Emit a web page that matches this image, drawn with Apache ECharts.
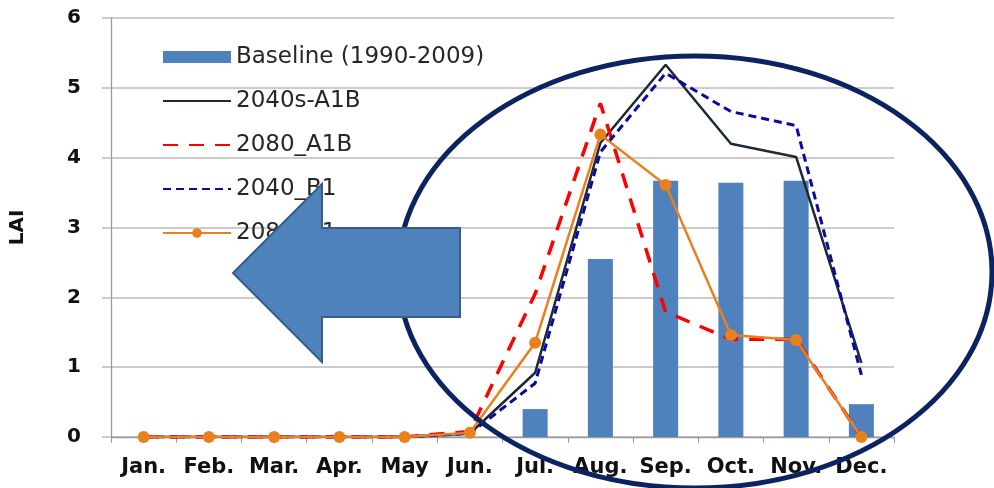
<!DOCTYPE html>
<html>
<head>
<meta charset="utf-8">
<script src="https://cdn.jsdelivr.net/npm/echarts@6/dist/echarts.min.js"></script>
<style>
html,body{margin:0;padding:0;background:#fff;}
#chart{width:994px;height:488px;}
</style>
</head>
<body>
<div id="chart"></div>
<script>
// ---- data ----
var months = ['Jan.','Feb.','Mar.','Apr.','May','Jun.','Jul.','Aug.','Sep.','Oct.','Nov.','Dec.'];
var seriesNames = ['Baseline (1990-2009)','2040s-A1B','2080_A1B','2040_B1','2080_B1'];
var baseline = [0,0,0,0,0,0,0.40,2.55,3.67,3.64,3.67,0.47];
var a1b2040  = [0,0,0,0,0,0.05,0.92,4.21,5.33,4.20,4.01,1.06];
var a1b2080  = [0,0,0,0,0,0.08,2.05,4.78,1.79,1.40,1.40,0.00];
var b12040   = [0,0,0,0,0,0.05,0.77,4.08,5.21,4.66,4.46,0.89];
var b12080   = [0,0,0,0,0,0.06,1.35,4.33,3.61,1.46,1.39,0.00];
var yTicks = [0,1,2,3,4,5,6];

var chart = echarts.init(document.getElementById('chart'));
var axisFont = {fontFamily:'DejaVu Sans', fontWeight:'bold', fontSize:20, color:'#111'};
var hideSym = {opacity:0};

var option = {
  backgroundColor:'#fff',
  animation:false,
  grid:{left:110, right:100, top:18, bottom:51, containLabel:false},
  legend:{
    left:157, top:40, orient:'vertical',
    itemWidth:68, itemHeight:12, itemGap:20,
    textStyle:{fontFamily:'DejaVu Sans', fontSize:23, color:'#262626', lineHeight:24},
    data:[
      {name:seriesNames[0], icon:'rect'},
      {name:seriesNames[1], itemStyle:hideSym},
      {name:seriesNames[2], itemStyle:hideSym},
      {name:seriesNames[3], itemStyle:hideSym},
      {name:seriesNames[4]}
    ]
  },
  xAxis:{
    type:'category', data:months, boundaryGap:true,
    axisLine:{lineStyle:{color:'#9a9a9a', width:1.3}},
    axisTick:{show:true, interval:0, length:6, lineStyle:{color:'#9a9a9a'}},
    axisLabel:{interval:0, margin:20, fontSize:21, fontFamily:'DejaVu Sans', fontWeight:'bold', color:'#111'},
    splitLine:{show:false}
  },
  yAxis:{
    type:'value', min:yTicks[0], max:yTicks[yTicks.length-1], interval:1,
    name:'LAI', nameLocation:'middle', nameRotate:90, nameGap:83,
    nameTextStyle:axisFont,
    axisLine:{show:true, lineStyle:{color:'#9a9a9a', width:1.3}},
    axisTick:{show:true, length:9, lineStyle:{color:'#bbbbbb', width:1.5}},
    axisLabel:Object.assign({margin:30}, axisFont),
    splitLine:{lineStyle:{color:'#bbbbbb', width:1.5}}
  },
  series:[
    {name:seriesNames[0], type:'bar', data:baseline, barWidth:25,
     itemStyle:{color:'#4F81BD'}},
    {name:seriesNames[1], type:'line', data:a1b2040, symbol:'none',
     lineStyle:{color:'#1C2A36', width:2.5}, itemStyle:{color:'#1C2A36'}},
    {name:seriesNames[2], type:'line', data:a1b2080, symbol:'none',
     lineStyle:{color:'#FF0000', width:3.5, type:[15,11]}, itemStyle:{color:'#FF0000'}},
    {name:seriesNames[3], type:'line', data:b12040, symbol:'none',
     lineStyle:{color:'#0A0AA0', width:3, type:[8,5]}, itemStyle:{color:'#0A0AA0'}},
    {name:seriesNames[4], type:'line', data:b12080, symbol:'circle', symbolSize:12,
     lineStyle:{color:'#E8801E', width:2.5}, itemStyle:{color:'#E8801E'}}
  ],
  graphic:[
    {type:'ellipse', z:100, silent:true,
     shape:{cx:695, cy:272, rx:297, ry:216},
     style:{fill:'none', stroke:'#0B2461', lineWidth:5}},
    {type:'polygon', z:101, silent:true,
     shape:{points:[[233,273],[322,184],[322,228],[460,228],[460,317],[322,317],[322,362]]},
     style:{fill:'#4F81BD', stroke:'#385D8A', lineWidth:2}}
  ]
};
chart.setOption(option);
</script>
</body>
</html>
